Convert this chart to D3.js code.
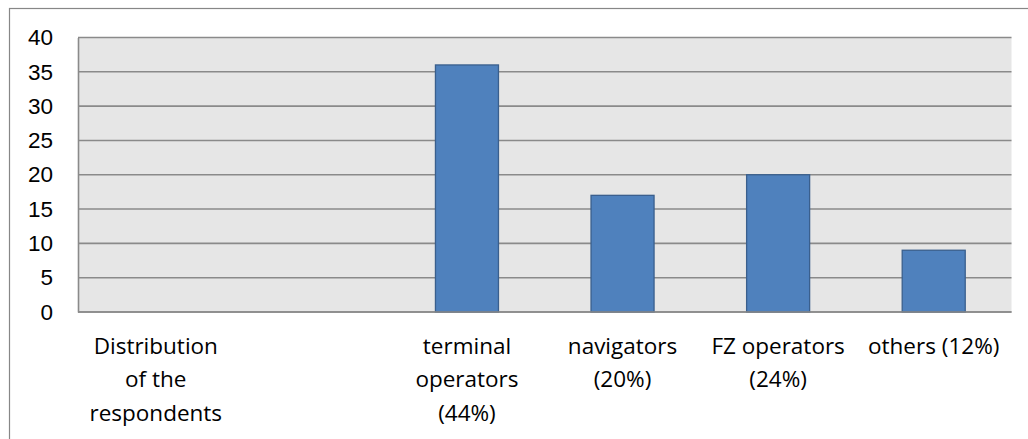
<!DOCTYPE html>
<html>
<head>
<meta charset="utf-8">
<script src="https://cdn.jsdelivr.net/npm/d3@7"></script>
<style>
  html, body { margin: 0; padding: 0; background: #fff; }
  svg { display: block; font-family: "Open Sans", Lato, sans-serif; }
</style>
</head>
<body>
<svg id="chart" width="1028" height="439"></svg>
<script>
// Respondent groups and their counts
const categories = [
  "Distribution of the respondents",
  "",
  "terminal operators (44%)",
  "navigators (20%)",
  "FZ operators (24%)",
  "others (12%)"
];
const counts = [null, null, 36, 17, 20, 9];
const yTicks = [0, 5, 10, 15, 20, 25, 30, 35, 40];

const W = 1028, H = 439;
const margin = { left: 78, right: 16.5, top: 37.5, bottom: 127 };
const plotW = W - margin.left - margin.right;
const plotH = H - margin.top - margin.bottom;
const fontSize = 22.5;

const svg = d3.select("#chart");

// outer chart frame
svg.append("rect")
  .attr("x", 9.5).attr("y", 8.5)
  .attr("width", W + 10).attr("height", H + 10)
  .attr("fill", "#fff")
  .attr("stroke", "#878787").attr("stroke-width", 1.2);

const g = svg.append("g").attr("transform", `translate(${margin.left},${margin.top})`);

const x = d3.scaleBand().domain(d3.range(categories.length)).range([0, plotW]).paddingInner(0.595).paddingOuter(0.2975);
const y = d3.scaleLinear().domain([0, 40]).range([plotH, 0]);

// plot background
g.append("rect").attr("width", plotW).attr("height", plotH).attr("fill", "#e6e6e6");

// horizontal gridlines
g.append("g").selectAll("line").data(yTicks).join("line")
  .attr("x1", 0).attr("x2", plotW)
  .attr("y1", d => y(d)).attr("y2", d => y(d))
  .attr("stroke", "#8a8a8a").attr("stroke-width", 1.6);

// bars
const data = counts.map((v, i) => ({ i, v })).filter(d => d.v != null);
g.append("g").selectAll("rect").data(data).join("rect")
  .attr("x", d => x(d.i))
  .attr("width", x.bandwidth())
  .attr("y", d => y(d.v))
  .attr("height", d => plotH - y(d.v))
  .attr("fill", "#4f81bd")
  .attr("stroke", "#3a5f8d").attr("stroke-width", 1.3);

// y axis
const yAxis = g.append("g").call(d3.axisLeft(y).tickValues(yTicks).tickSize(0).tickPadding(25));
yAxis.select(".domain").attr("stroke", "#8a8a8a").attr("stroke-width", 1.6);
yAxis.selectAll("text").attr("font-size", fontSize).attr("fill", "#000").attr("font-family", null);

// x axis baseline
g.append("line").attr("x1", 0).attr("x2", plotW).attr("y1", plotH).attr("y2", plotH)
  .attr("stroke", "#8a8a8a").attr("stroke-width", 1.6);

// category labels wrapped to the category width
const wrapWidth = 140;
const labels = g.append("g").attr("font-size", fontSize).attr("fill", "#000").attr("text-anchor", "middle");
categories.forEach((c, i) => {
  if (!c) return;
  const cx = x(i) + x.bandwidth() / 2;
  const t = labels.append("text").attr("x", cx).attr("y", plotH + 42);
  const words = c.split(" ");
  let lines = [], cur = [];
  const probe = labels.append("text").attr("visibility", "hidden");
  words.forEach(w => {
    const test = cur.concat(w).join(" ");
    probe.text(test);
    if (cur.length && probe.node().getComputedTextLength() > wrapWidth) {
      lines.push(cur.join(" "));
      cur = [w];
    } else cur.push(w);
  });
  lines.push(cur.join(" "));
  probe.remove();
  lines.forEach((ln, k) => {
    t.append("tspan").attr("x", cx).attr("dy", k === 0 ? 0 : 33.3).text(ln);
  });
});
</script>
</body>
</html>
